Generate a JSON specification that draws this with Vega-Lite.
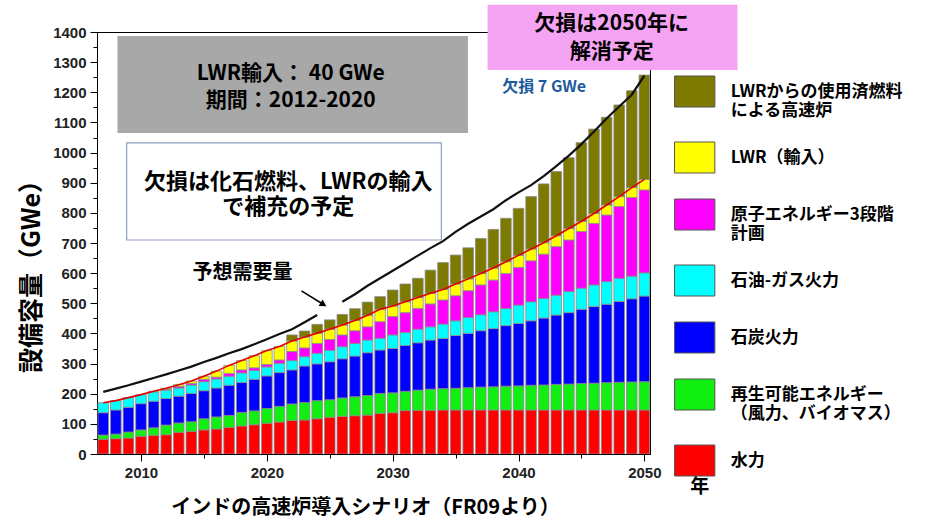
{
  "$schema": "https://vega.github.io/schema/vega-lite/v6.json",
  "width": 553,
  "height": 422,
  "autosize": "none",
  "padding": {"left": 97, "top": 32, "right": 279, "bottom": 68},
  "background": "white",
  "config": {
    "view": {"stroke": "#000", "strokeWidth": 1},
    "font": "Noto Sans CJK JP"
  },
  "datasets": {
    "cap": [
      {"year": 2007, "h": 49, "rn": 14, "co": 74, "og": 33, "n3": 0, "lw": 0, "fb": 0, "sup": 170},
      {"year": 2008, "h": 51, "rn": 15, "co": 80, "og": 31, "n3": 0, "lw": 0, "fb": 0, "sup": 177},
      {"year": 2009, "h": 53, "rn": 20, "co": 82, "og": 32, "n3": 0, "lw": 0, "fb": 0, "sup": 187},
      {"year": 2010, "h": 59, "rn": 21, "co": 87, "og": 30, "n3": 0, "lw": 0, "fb": 0, "sup": 197},
      {"year": 2011, "h": 62, "rn": 25, "co": 88, "og": 31, "n3": 0, "lw": 2, "fb": 0, "sup": 208},
      {"year": 2012, "h": 64, "rn": 32, "co": 88, "og": 28, "n3": 3, "lw": 3, "fb": 0, "sup": 218},
      {"year": 2013, "h": 72, "rn": 31, "co": 89, "og": 27, "n3": 5, "lw": 6, "fb": 0, "sup": 230},
      {"year": 2014, "h": 75, "rn": 32, "co": 94, "og": 28, "n3": 5, "lw": 8, "fb": 0, "sup": 242},
      {"year": 2015, "h": 80, "rn": 37, "co": 93, "og": 30, "n3": 8, "lw": 10, "fb": 0, "sup": 258},
      {"year": 2016, "h": 83, "rn": 40, "co": 96, "og": 30, "n3": 6, "lw": 20, "fb": 0, "sup": 275},
      {"year": 2017, "h": 88, "rn": 40, "co": 100, "og": 30, "n3": 9, "lw": 27, "fb": 0, "sup": 294},
      {"year": 2018, "h": 93, "rn": 45, "co": 99, "og": 32, "n3": 10, "lw": 31, "fb": 0, "sup": 310},
      {"year": 2019, "h": 97, "rn": 46, "co": 105, "og": 29, "n3": 9, "lw": 40, "fb": 0, "sup": 326},
      {"year": 2020, "h": 102, "rn": 49, "co": 108, "og": 30, "n3": 8, "lw": 46, "fb": 0, "sup": 343},
      {"year": 2021, "h": 106, "rn": 52, "co": 112, "og": 31, "n3": 11, "lw": 45, "fb": 0, "sup": 357},
      {"year": 2022, "h": 111, "rn": 55, "co": 113, "og": 31, "n3": 30, "lw": 35, "fb": 20, "sup": 375},
      {"year": 2023, "h": 113, "rn": 58, "co": 121, "og": 31, "n3": 29, "lw": 36, "fb": 20, "sup": 388},
      {"year": 2024, "h": 117, "rn": 60, "co": 122, "og": 35, "n3": 33, "lw": 34, "fb": 29, "sup": 401},
      {"year": 2025, "h": 122, "rn": 58, "co": 126, "og": 38, "n3": 36, "lw": 34, "fb": 31, "sup": 414},
      {"year": 2026, "h": 125, "rn": 61, "co": 130, "og": 40, "n3": 39, "lw": 33, "fb": 35, "sup": 428},
      {"year": 2027, "h": 127, "rn": 63, "co": 135, "og": 42, "n3": 42, "lw": 34, "fb": 39, "sup": 443},
      {"year": 2028, "h": 129, "rn": 65, "co": 142, "og": 42, "n3": 44, "lw": 38, "fb": 44, "sup": 460},
      {"year": 2029, "h": 135, "rn": 66, "co": 144, "og": 39, "n3": 55, "lw": 41, "fb": 42, "sup": 480},
      {"year": 2030, "h": 137, "rn": 66, "co": 147, "og": 45, "n3": 61, "lw": 35, "fb": 53, "sup": 491},
      {"year": 2031, "h": 144, "rn": 64, "co": 152, "og": 43, "n3": 66, "lw": 36, "fb": 59, "sup": 505},
      {"year": 2032, "h": 145, "rn": 67, "co": 157, "og": 45, "n3": 69, "lw": 36, "fb": 64, "sup": 519},
      {"year": 2033, "h": 145, "rn": 70, "co": 163, "og": 44, "n3": 76, "lw": 35, "fb": 77, "sup": 533},
      {"year": 2034, "h": 146, "rn": 71, "co": 166, "og": 48, "n3": 80, "lw": 35, "fb": 89, "sup": 546},
      {"year": 2035, "h": 146, "rn": 72, "co": 175, "og": 49, "n3": 83, "lw": 39, "fb": 96, "sup": 564},
      {"year": 2036, "h": 146, "rn": 74, "co": 180, "og": 53, "n3": 89, "lw": 39, "fb": 103, "sup": 581},
      {"year": 2037, "h": 146, "rn": 76, "co": 187, "og": 53, "n3": 99, "lw": 38, "fb": 116, "sup": 599},
      {"year": 2038, "h": 146, "rn": 77, "co": 193, "og": 56, "n3": 105, "lw": 40, "fb": 128, "sup": 617},
      {"year": 2039, "h": 146, "rn": 79, "co": 201, "og": 57, "n3": 116, "lw": 39, "fb": 144, "sup": 638},
      {"year": 2040, "h": 146, "rn": 80, "co": 207, "og": 61, "n3": 125, "lw": 40, "fb": 156, "sup": 659},
      {"year": 2041, "h": 146, "rn": 82, "co": 214, "og": 63, "n3": 136, "lw": 39, "fb": 174, "sup": 680},
      {"year": 2042, "h": 146, "rn": 83, "co": 222, "og": 65, "n3": 147, "lw": 38, "fb": 195, "sup": 701},
      {"year": 2043, "h": 146, "rn": 85, "co": 230, "og": 66, "n3": 161, "lw": 36, "fb": 213, "sup": 724},
      {"year": 2044, "h": 146, "rn": 86, "co": 237, "og": 70, "n3": 171, "lw": 38, "fb": 235, "sup": 748},
      {"year": 2045, "h": 146, "rn": 88, "co": 246, "og": 70, "n3": 188, "lw": 34, "fb": 261, "sup": 772},
      {"year": 2046, "h": 146, "rn": 89, "co": 254, "og": 72, "n3": 204, "lw": 33, "fb": 280, "sup": 798},
      {"year": 2047, "h": 146, "rn": 91, "co": 260, "og": 75, "n3": 221, "lw": 33, "fb": 291, "sup": 826},
      {"year": 2048, "h": 146, "rn": 92, "co": 268, "og": 77, "n3": 238, "lw": 33, "fb": 304, "sup": 854},
      {"year": 2049, "h": 146, "rn": 93, "co": 276, "og": 75, "n3": 261, "lw": 33, "fb": 321, "sup": 884},
      {"year": 2050, "h": 146, "rn": 94, "co": 284, "og": 77, "n3": 275, "lw": 35, "fb": 346, "sup": 911}
    ],
    "cats": [
      {"key": "h", "name": "水力", "ord": 1},
      {"key": "rn", "name": "再生可能エネルギー（風力、バイオマス）", "ord": 2},
      {"key": "co", "name": "石炭火力", "ord": 3},
      {"key": "og", "name": "石油-ガス火力", "ord": 4},
      {"key": "n3", "name": "原子エネルギー3段階計画", "ord": 5},
      {"key": "lw", "name": "LWR（輸入）", "ord": 6},
      {"key": "fb", "name": "LWRからの使用済燃料による高速炉", "ord": 7}
    ],
    "demand": [
      {"year": 2007, "value": 206, "seg": 1}, {"year": 2008, "value": 217, "seg": 1},
      {"year": 2009, "value": 228, "seg": 1}, {"year": 2010, "value": 240, "seg": 1},
      {"year": 2011, "value": 252, "seg": 1}, {"year": 2012, "value": 264, "seg": 1},
      {"year": 2013, "value": 277, "seg": 1}, {"year": 2014, "value": 290, "seg": 1},
      {"year": 2015, "value": 305, "seg": 1}, {"year": 2016, "value": 319, "seg": 1},
      {"year": 2017, "value": 334, "seg": 1}, {"year": 2018, "value": 348, "seg": 1},
      {"year": 2019, "value": 364, "seg": 1}, {"year": 2020, "value": 381, "seg": 1},
      {"year": 2021, "value": 398, "seg": 1}, {"year": 2022, "value": 414, "seg": 1},
      {"year": 2023, "value": 437, "seg": 1}, {"year": 2024, "value": 461, "seg": 1},
      {"year": 2026, "value": 505, "seg": 2}, {"year": 2027, "value": 530, "seg": 2},
      {"year": 2028, "value": 558, "seg": 2}, {"year": 2029, "value": 583, "seg": 2},
      {"year": 2030, "value": 608, "seg": 2}, {"year": 2031, "value": 633, "seg": 2},
      {"year": 2032, "value": 658, "seg": 2}, {"year": 2033, "value": 683, "seg": 2},
      {"year": 2034, "value": 706, "seg": 2}, {"year": 2035, "value": 737, "seg": 2},
      {"year": 2036, "value": 764, "seg": 2}, {"year": 2037, "value": 788, "seg": 2},
      {"year": 2038, "value": 812, "seg": 2}, {"year": 2039, "value": 842, "seg": 2},
      {"year": 2040, "value": 868, "seg": 2}, {"year": 2041, "value": 892, "seg": 2},
      {"year": 2042, "value": 922, "seg": 2}, {"year": 2043, "value": 955, "seg": 2},
      {"year": 2044, "value": 990, "seg": 2}, {"year": 2045, "value": 1028, "seg": 2},
      {"year": 2046, "value": 1070, "seg": 2}, {"year": 2047, "value": 1113, "seg": 2},
      {"year": 2048, "value": 1153, "seg": 2}, {"year": 2049, "value": 1192, "seg": 2},
      {"year": 2050, "value": 1255, "seg": 2}
    ]
  },
  "encoding": {
    "x": {
      "field": "year", "type": "quantitative",
      "scale": {"domain": [2006.9, 2050.05], "nice": false, "zero": false},
      "axis": {
        "values": [2010, 2015, 2020, 2025, 2030, 2035, 2040, 2045, 2050],
        "format": "d",
        "labelExpr": "datum.value % 10 === 0 ? datum.label : ''",
        "tickSize": {"condition": {"test": "datum.value % 10 === 0", "value": 7}, "value": 4},
        "tickColor": "#000", "domainColor": "#000", "grid": false,
        "labelFont": "Liberation Sans", "labelFontSize": 15, "labelFontWeight": "bold",
        "labelColor": "#222", "labelPadding": 4, "labelFlush": false, "labelOverlap": false,
        "title": "インドの高速炉導入シナリオ（FR09より）",
        "titleFont": "Noto Sans CJK JP", "titleFontSize": 20, "titleFontWeight": "bold",
        "titleColor": "#000", "titleX": 268, "titleY": 53, "titleAlign": "center", "titleBaseline": "middle"
      }
    },
    "y": {
      "field": "value", "type": "quantitative",
      "scale": {"domain": [0, 1400], "nice": false},
      "axis": {
        "values": [0, 50, 100, 150, 200, 250, 300, 350, 400, 450, 500, 550, 600, 650, 700, 750, 800, 850, 900, 950, 1000, 1050, 1100, 1150, 1200, 1250, 1300, 1350, 1400],
        "format": "d",
        "labelExpr": "datum.value % 100 === 0 ? datum.label : ''",
        "tickSize": {"condition": {"test": "datum.value % 100 === 0", "value": 7}, "value": 4},
        "tickColor": "#000", "domainColor": "#000", "grid": false,
        "labelFont": "Liberation Sans", "labelFontSize": 15, "labelFontWeight": "bold",
        "labelColor": "#222", "labelPadding": 4, "labelOverlap": false, "labelFlush": false,
        "title": "設備容量（GWe）",
        "titleFont": "Noto Sans CJK JP", "titleFontSize": 25, "titleFontWeight": "bold",
        "titleColor": "#000", "titleX": -66, "titleY": 238, "titleAngle": 270,
        "titleAlign": "center", "titleBaseline": "middle"
      }
    }
  },
  "layer": [
    {
      "data": {"name": "cap"},
      "transform": [
        {"fold": ["h", "rn", "co", "og", "n3", "lw", "fb"], "as": ["key", "value"]},
        {"filter": "datum.value > 0"},
        {"lookup": "key", "from": {"data": {"name": "cats"}, "key": "key", "fields": ["name", "ord"]}}
      ],
      "mark": {"type": "bar", "width": 10.6, "clip": true, "stroke": "#8a8a8a", "strokeWidth": 0.8},
      "encoding": {
        "color": {
          "field": "name", "type": "nominal",
          "scale": {
            "domain": ["LWRからの使用済燃料による高速炉", "LWR（輸入）", "原子エネルギー3段階計画", "石油-ガス火力", "石炭火力", "再生可能エネルギー（風力、バイオマス）", "水力"],
            "range": ["#7d7a00", "#ffff00", "#ff00ff", "#00ffff", "#0000ff", "#11ee11", "#ff0000"]
          },
          "legend": {
            "orient": "none", "legendX": 581.7, "legendY": 43.5, "title": null, "padding": 0,
            "symbolType": "M-1.3,-1H1.3V1H-1.3Z", "symbolSize": 961,
            "symbolStrokeColor": "#555", "symbolStrokeWidth": 1, "symbolOpacity": 1,
            "labelFont": "Noto Sans CJK JP", "labelFontSize": 17, "labelFontWeight": "bold",
            "labelColor": "#000", "labelLimit": 300, "labelOffset": 20, "rowPadding": 21,
            "encode": {"labels": {"update": {"lineHeight": {"value": 19}}}},
            "labelExpr": "datum.label == 'LWRからの使用済燃料による高速炉' ? ['LWRからの使用済燃料', 'による高速炉'] : datum.label == '原子エネルギー3段階計画' ? ['原子エネルギー3段階', '計画'] : datum.label == '再生可能エネルギー（風力、バイオマス）' ? ['再生可能エネルギー', '（風力、バイオマス）'] : datum.label"
          }
        },
        "order": {"field": "ord", "type": "quantitative", "sort": "ascending"}
      }
    },
    {
      "data": {"name": "cap"},
      "transform": [{"fold": ["sup"], "as": ["k", "value"]}],
      "mark": {"type": "line", "color": "#e00000", "strokeWidth": 1.6, "clip": true}
    },
    {
      "data": {"name": "demand"},
      "mark": {"type": "line", "color": "#111", "strokeWidth": 2.2},
      "encoding": {"detail": {"field": "seg"}}
    },
    {
      "data": {"values": [{"year": 2008.13, "year2": 2035.98, "value": 1065, "value2": 1387}]},
      "mark": {"type": "rect", "fill": "#a8a8a8"},
      "encoding": {"x2": {"field": "year2"}, "y2": {"field": "value2"}}
    },
    {
      "data": {"values": [{"year": 2008.86, "year2": 2033.87, "value": 710, "value2": 1032}]},
      "mark": {"type": "rect", "fill": "#ffffff", "stroke": "#8fa3c0", "strokeWidth": 1.2},
      "encoding": {"x2": {"field": "year2"}, "y2": {"field": "value2"}}
    },
    {
      "data": {"values": [{"year": 2037.54, "year2": 2057.4, "value": 1274, "value2": 1490}]},
      "mark": {"type": "rect", "fill": "#f5a3f3"},
      "encoding": {"x2": {"field": "year2"}, "y2": {"field": "value2"}}
    },
    {
      "data": {"values": [
        {"year": 2021.9, "value": 1262, "t": "LWR輸入： 40 GWe"},
        {"year": 2021.9, "value": 1172, "t": "期間：2012-2020"}
      ]},
      "mark": {"type": "text", "font": "Noto Sans CJK JP", "fontSize": 21, "fontWeight": "bold", "color": "#000", "align": "center", "baseline": "middle"},
      "encoding": {"text": {"field": "t"}}
    },
    {
      "data": {"values": [
        {"year": 2021.7, "value": 902, "t": "欠損は化石燃料、LWRの輸入"},
        {"year": 2021.7, "value": 819, "t": "で補充の予定"}
      ]},
      "mark": {"type": "text", "font": "Noto Sans CJK JP", "fontSize": 22, "fontWeight": "bold", "color": "#000", "align": "center", "baseline": "middle"},
      "encoding": {"text": {"field": "t"}}
    },
    {
      "data": {"values": [
        {"year": 2047.4, "value": 1426, "t": "欠損は2050年に"},
        {"year": 2047.4, "value": 1334, "t": "解消予定"}
      ]},
      "mark": {"type": "text", "font": "Noto Sans CJK JP", "fontSize": 21, "fontWeight": "bold", "color": "#000", "align": "center", "baseline": "middle"},
      "encoding": {"text": {"field": "t"}}
    },
    {
      "data": {"values": [{"year": 2018.07, "value": 600, "t": "予想需要量"}]},
      "mark": {"type": "text", "font": "Noto Sans CJK JP", "fontSize": 20, "fontWeight": "bold", "color": "#000", "align": "center", "baseline": "middle"},
      "encoding": {"text": {"field": "t"}}
    },
    {
      "data": {"values": [{"year": 2038.7, "value": 1217, "t": "欠損 7 GWe"}]},
      "mark": {"type": "text", "font": "Noto Sans CJK JP", "fontSize": 16, "fontWeight": "bold", "color": "#1d5b9c", "align": "left", "baseline": "middle"},
      "encoding": {"text": {"field": "t"}}
    },
    {
      "data": {"values": [{"year": 2054.4, "value": -109, "t": "年"}]},
      "mark": {"type": "text", "font": "Noto Sans CJK JP", "fontSize": 19, "fontWeight": "bold", "color": "#000", "align": "center", "baseline": "middle"},
      "encoding": {"text": {"field": "t"}}
    },
    {
      "data": {"values": [{"year": 2022.75, "value": 541, "year2": 2024.5, "value2": 496}]},
      "mark": {"type": "rule", "color": "#000", "strokeWidth": 1.5},
      "encoding": {"x2": {"field": "year2"}, "y2": {"field": "value2"}}
    },
    {
      "data": {"values": [{"year": 2024.5, "value": 496}]},
      "mark": {"type": "point", "shape": "triangle-right", "filled": true, "color": "#000", "size": 60, "angle": 31, "opacity": 1}
    }
  ]
}
